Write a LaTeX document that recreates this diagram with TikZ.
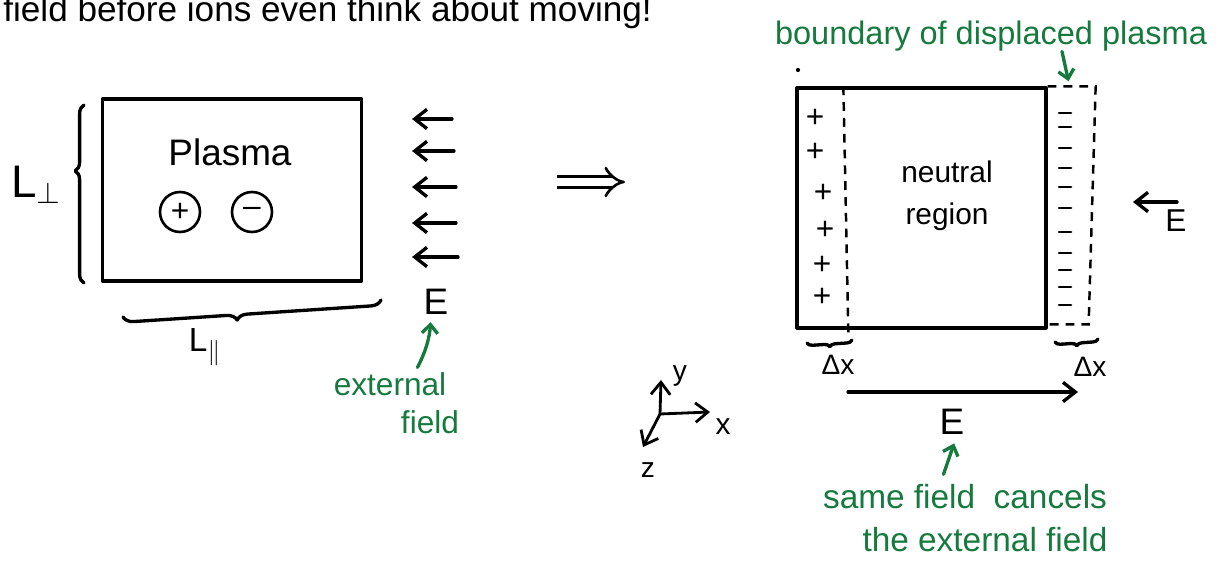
\documentclass[tikz,border=0pt]{standalone}
\usepackage{fontspec}
\setmainfont{Liberation Sans}
\usepackage{tikz}
\usetikzlibrary{arrows.meta, positioning, calc, decorations.pathreplacing}
\definecolor{handgreen}{RGB}{22,122,62}

\begin{document}
\begin{tikzpicture}[
  x=0.02cm, y=-0.02cm,
  every node/.style={inner sep=0pt},
  ink/.style={line width=1.9pt, line cap=round, line join=round},
  plasmabox/.style={rectangle, draw, ink, minimum width=5.18cm, minimum height=3.64cm},
  particle/.style={circle, draw, line width=1.5pt, minimum size=0.8cm,
                   font=\fontsize{18}{18}\selectfont},
  hand/.style={font=\fontsize{18}{20}\selectfont},
  sign/.style={font=\fontsize{18}{18}\selectfont},
  note/.style={font=\fontsize{18}{20}\selectfont, text=handgreen},
  arrow/.style={-{Straight Barb[length=7pt, width=11pt]}, ink},
  greenarrow/.style={-{Straight Barb[length=5pt, width=9pt]}, ink, handgreen},
  curly/.style={decorate, decoration={brace, amplitude=#1}, ink},
  strip/.style={line width=1.4pt, dash pattern=on 5pt off 4pt}
]
  \useasboundingbox (0,0) rectangle (1223,567);

  \node[anchor=base west, font=\fontsize{20}{24}\selectfont] (header) at (3,22)
    {field before ions even think about moving!};

  % plasma slab in the external field
  \node[plasmabox] (plasma) at (232,190) {};
  \node[hand, font=\fontsize{21}{21}\selectfont] (plasmalbl) at (230,152) {Plasma};
  \node[particle] (ion) at (180,212) {+};
  \node[particle] (elec) at (252,212) {--};

  \draw[curly=5pt, decoration={aspect=0.63}] (84,283) -- (84,105);
  \node[hand, font=\fontsize{26}{26}\selectfont] (lperp) at (36,185) {L$_\perp$};
  \draw[curly=6pt, decoration={aspect=0.56}] (381,300) -- (123,317);
  \node[hand, font=\fontsize{19}{19}\selectfont] (lpar) at (205,347) {L$_\parallel$};

  \foreach \i/\y/\xa in {1/119/452, 2/151/454, 3/187/456, 4/223/456, 5/257/458}{
    \coordinate (fa\i) at (\xa,\y);
    \coordinate (fb\i) at (412,\y);
    \draw[arrow] (fa\i) -- (fb\i);
  }
  \node[hand, font=\fontsize{21}{21}\selectfont] (eext) at (436,302) {E};
  \node[note] (extlbl) at (390,384) {external};
  \node[note] (extfld) at (430,422) {field};
  \draw[greenarrow, shorten <=3pt, shorten >=4pt]
    ([xshift=0.5cm]extlbl.north) to[bend right=12] ([xshift=-0.1cm]eext.south);

  \coordinate (impa) at (557,182);
  \coordinate (impb) at (625,182);
  \draw[-{Implies}, double, double distance=4.5pt, line width=1.5pt] (impa) -- (impb);

  % axes
  \coordinate (origin) at (660,414);
  \coordinate (yend) at (661,380);
  \coordinate (xend) at (710,412);
  \coordinate (zend) at (643,447);
  \draw[arrow, line width=1.6pt] (origin) -- (yend);
  \draw[arrow, line width=1.6pt] (origin) -- (xend);
  \draw[arrow, line width=1.6pt] (origin) -- (zend);
  \node[hand, font=\fontsize{16}{16}\selectfont] (ylbl) at (680,376) {y};
  \node[hand, font=\fontsize{17}{17}\selectfont] (xlbl) at (723,427) {x};
  \node[hand, font=\fontsize{16}{16}\selectfont] (zlbl) at (648,470) {z};

  % displaced plasma
  \fill (798,70) circle (1.2pt);
  \node[rectangle, draw, ink, minimum width=4.98cm, minimum height=4.8cm] (core) at (921.5,208) {};
  \draw[strip] ([xshift=0.96cm]core.north west) -- ([xshift=1.06cm, yshift=-0.08cm]core.south west);
  \draw[strip] (core.north east) -- ++(48,0) -- ++(-7,238) -- ++(-40,0);
  \coordinate (striptop) at ($(core.north east)+(22,0)$);

  \foreach \i/\x/\y in {1/815/118, 2/815/152, 3/823/193, 4/825/230, 5/822/265, 6/822/297}{
    \node[sign] (pos\i) at (\x,\y) {+};
  }
  \foreach \y in {113, 127, 148, 168, 187, 208, 232, 253, 270, 287, 305}{
    \draw[ink, line width=1.5pt] (1059,\y) -- (1071,\y);
  }
  \node[hand, align=center, font=\fontsize{17}{24}\selectfont] (neutral) at (947,196) {neutral\\region};

  \draw[curly=3pt] (852,340) -- (807,343);
  \node[hand, font=\fontsize{16}{16}\selectfont] (dxl) at (838,365) {Δx};
  \draw[curly=3pt] (1098,339) -- (1055,342);
  \node[hand, font=\fontsize{16}{16}\selectfont] (dxr) at (1090,367) {Δx};

  \node[note, font=\fontsize{18.5}{20}\selectfont] (bndlbl) at (991,36) {boundary of displaced plasma};
  \draw[greenarrow, shorten >=3pt] ([xshift=1.42cm]bndlbl.south) -- (striptop);

  \coordinate (rfa) at (1177,202);
  \coordinate (rfb) at (1133,202);
  \draw[arrow] (rfa) -- (rfb);
  \node[hand, font=\fontsize{18}{18}\selectfont] (erght) at (1176,221) {E};

  \coordinate (fielda) at (848,392);
  \coordinate (fieldb) at (1078,392);
  \draw[arrow] (fielda) -- (fieldb);
  \node[hand, font=\fontsize{21}{21}\selectfont] (bige) at (952,422) {E};
  \node[note, font=\fontsize{19}{20}\selectfont] (samefld) at (965,497) {same field \ cancels};
  \node[note, font=\fontsize{19}{20}\selectfont] (extfld2) at (985,540) {the external field};
  \draw[greenarrow, shorten <=6pt, shorten >=5pt] ([xshift=-0.5cm]samefld.north) -- ([xshift=0.1cm]bige.south);

\end{tikzpicture}
\end{document}
